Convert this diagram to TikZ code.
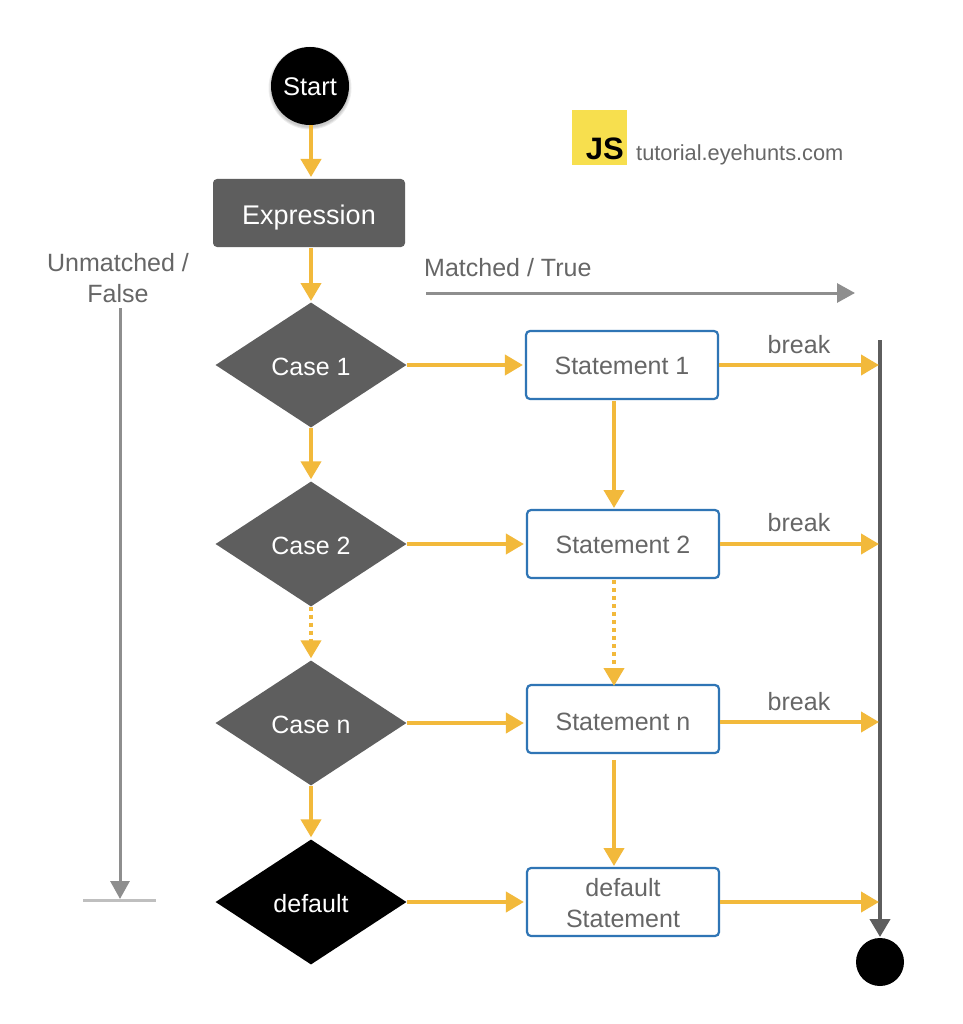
\documentclass[tikz,border=0pt]{standalone}
\usepackage{fontspec}
\setmainfont{Liberation Sans}
\usetikzlibrary{arrows.meta,shapes.geometric}
\definecolor{flow}{HTML}{F2B93B}
\definecolor{dark}{HTML}{5E5E5E}
\definecolor{txt}{HTML}{666666}
\definecolor{guide}{HTML}{8E8E8E}
\definecolor{boxblue}{HTML}{2F75B5}
\definecolor{jsy}{HTML}{F7DF4E}
\newcommand{\dn}[2][2pt]{\raisebox{-#1}[\height][\depth]{#2}}
\tikzset{
  fs/.style={font=\fontsize{25}{30}\selectfont},
  casebox/.style={diamond,aspect=1.532,fill=dark,text=white,minimum width=191pt,minimum height=125pt,inner sep=0pt,fs},
  stmt/.style={draw=boxblue,line width=2.2pt,rounded corners=4pt,fill=white,text=txt,minimum width=192pt,minimum height=68pt,inner sep=0pt,fs,align=center},
  flowarrow/.style={draw=flow,line width=4pt,shorten >=2pt,-{Triangle[length=18pt,width=20pt,fill=flow]}},
  guidearrow/.style={draw=guide,line width=3pt,-{Triangle[length=18pt,width=19pt,fill=guide]}},
  lbl/.style={text=txt,fs,inner sep=0pt,align=center},
  halo/.style={fill=black,opacity=0.07},
}
\begin{document}
\begin{tikzpicture}[x=1pt,y=-1pt]
\useasboundingbox (0,0) rectangle (962,1024);
\fill[white] (0,0) rectangle (962,1024);
% soft shadow under the start circle
\fill[halo] (310,88) circle (39.5pt);
\fill[halo] (310,88) circle (40.5pt);
\fill[halo] (310,88) circle (41.5pt);
% nodes
\node[circle,fill=black,text=white,minimum size=78pt,inner sep=0pt,font=\fontsize{25.5}{30}\selectfont] (start) at (310,86) {\dn[1pt]{Start}};
\node[fill=dark,text=white,rounded corners=4pt,minimum width=192pt,minimum height=68pt,inner sep=0pt,font=\fontsize{27}{30}\selectfont] (expr) at (309,213) {\dn[5pt]{Expression}};
\node[casebox] (c1) at (311,365) {\dn{Case 1}};
\node[casebox] (c2) at (311,544) {\dn{Case 2}};
\node[casebox] (cn) at (311,723) {\dn{Case n}};
\node[casebox,fill=black] (cd) at (311,902) {\dn{default}};
\node[stmt] (s1) at (622,365) {\dn[1pt]{Statement 1}};
\node[stmt] (s2) at (623,544) {\dn[1pt]{Statement 2}};
\node[stmt] (sn) at (623,719) {\dn[2.5pt]{Statement n}};
\node[stmt] (sd) at (623,902) {\dn[1.5pt]{default}\\[1pt]\dn[1.5pt]{Statement}};
\node[circle,fill=black,minimum size=48pt,inner sep=0pt] (end) at (880,962) {};
% logo
\node[fill=jsy,minimum size=55pt,inner sep=0pt] (logo) at (599.5,137.5) {};
\node[anchor=base east,inner sep=0pt,font=\bfseries\fontsize{31}{30}\selectfont,text=black] (js) at (624,160) {JS};
\node[anchor=base west,inner sep=0pt,text=txt,font=\fontsize{21.8}{24}\selectfont] (site) at (636,161) {tutorial.eyehunts.com};
% labels
\node[lbl] (unm) at (118,278) {Unmatched /\\[1pt]False};
\node[lbl,anchor=base west] (mat) at (424,276) {Matched / True};
\node[lbl] (b1) at (799,345) {break};
\node[lbl] (b2) at (799,523) {break};
\node[lbl] (b3) at (799,702) {break};
% coordinates
\coordinate (m0) at (426,293); \coordinate (m1) at (855,293);
\coordinate (u0) at (120,308); \coordinate (u1) at (120,899);
\coordinate (bar0) at (83,900); \coordinate (bar1) at (156,900);
\coordinate (r0) at (880,340); \coordinate (r1) at (880,937);
\coordinate (h1) at (881,365); \coordinate (h2) at (881,544);
\coordinate (h3) at (881,722); \coordinate (h4) at (881,902);
\coordinate (v1a) at (614,401); \coordinate (v1b) at (614,510);
\coordinate (v2a) at (614,580); \coordinate (v2b) at (614,688);
\coordinate (v3a) at (614,760); \coordinate (v3b) at (614,868);
\coordinate (t0) at (311,125); \coordinate (t1) at (311,179);
\coordinate (t2) at (311,248); \coordinate (t3) at (311,303);
% guides
\draw[guidearrow] (m0) -- (m1);
\draw[guidearrow] (u0) -- (u1);
\draw[draw=black!25,line width=3pt] (bar0) -- (bar1);
\draw[draw=dark,line width=4pt,-{Triangle[length=18pt,width=20pt,fill=dark]}] (r0) -- (r1);
% flow
\draw[flowarrow] (t0) -- (t1);
\draw[flowarrow] (t2) -- (t3);
\draw[flowarrow] (c1.south) -- (c2.north);
\draw[flowarrow,dash pattern=on 4pt off 4pt] (c2.south) -- (cn.north);
\draw[flowarrow] (cn.south) -- (cd.north);
\draw[flowarrow] (c1.east) -- (s1.west);
\draw[flowarrow] (c2.east) -- (s2.west);
\draw[flowarrow] (cn.east) -- (cn.east -| sn.west);
\draw[flowarrow] (cd.east) -- (sd.west);
\draw[flowarrow] (s1.east) -- (h1);
\draw[flowarrow] (s2.east) -- (h2);
\draw[flowarrow] (sn.east |- h3) -- (h3);
\draw[flowarrow] (sd.east) -- (h4);
\draw[flowarrow] (v1a) -- (v1b);
\draw[flowarrow,dash pattern=on 4pt off 4pt] (v2a) -- (v2b);
\draw[flowarrow] (v3a) -- (v3b);
\end{tikzpicture}
\end{document}
